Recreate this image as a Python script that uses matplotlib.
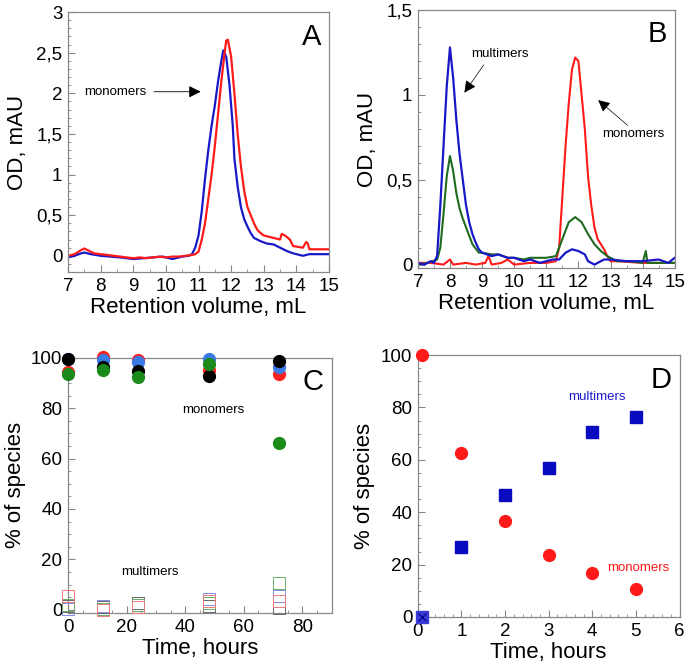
import numpy as np
import matplotlib
matplotlib.use("Agg")
import matplotlib.pyplot as plt
from matplotlib.ticker import MultipleLocator, FuncFormatter

plt.rcParams['font.family'] = ['Liberation Sans', 'DejaVu Sans']

# --- panel A : chromatograms (retention volume, OD) ---
a_red_x = [7.0, 7.2, 7.4, 7.5, 7.6, 7.8, 8.0, 8.2, 8.4, 8.6, 8.8, 9.0, 9.2, 9.4, 9.6, 9.8,
           10.0, 10.2, 10.4, 10.6, 10.8, 10.9, 11.0, 11.1, 11.2, 11.3, 11.4, 11.5, 11.6,
           11.7, 11.8, 11.85, 11.9, 12.0, 12.1, 12.2, 12.3, 12.4, 12.5, 12.6, 12.7, 12.8,
           12.9, 13.0, 13.3, 13.5, 13.55, 13.65, 13.8, 13.9, 14.2, 14.3, 14.35, 14.4, 15.0]
a_red_y = [0.0, 0.02, 0.07, 0.09, 0.07, 0.03, 0.02, 0.01, 0.0, -0.01, -0.02, -0.03, -0.02,
           -0.03, -0.02, -0.01, -0.02, -0.01, -0.01, 0.0, 0.01, 0.02, 0.05, 0.2, 0.4, 0.7,
           1.0, 1.35, 1.75, 2.15, 2.5, 2.65, 2.66, 2.45, 2.0, 1.5, 1.1, 0.8, 0.6, 0.5, 0.4,
           0.32, 0.28, 0.25, 0.22, 0.2, 0.27, 0.25, 0.2, 0.12, 0.1, 0.17, 0.15, 0.08, 0.08]
a_blue_x = [7.0, 7.2, 7.4, 7.5, 7.7, 8.0, 8.3, 8.6, 9.0, 9.3, 9.6, 9.9, 10.2, 10.5, 10.7,
            10.8, 10.9, 11.0, 11.1, 11.2, 11.3, 11.4, 11.5, 11.6, 11.7, 11.76, 11.85, 11.95,
            12.05, 12.1, 12.2, 12.3, 12.4, 12.5, 12.6, 12.7, 12.9, 13.1, 13.3, 13.5, 13.7,
            13.9, 14.2, 14.4, 15.0]
a_blue_y = [-0.02, 0.0, 0.03, 0.04, 0.02, 0.0, -0.01, -0.02, -0.04, -0.03, -0.02, -0.01,
            -0.04, -0.01, 0.0, 0.02, 0.1, 0.25, 0.55, 0.95, 1.3, 1.6, 1.85, 2.15, 2.4, 2.53,
            2.45, 2.1, 1.6, 1.2, 0.85, 0.6, 0.45, 0.36, 0.28, 0.22, 0.18, 0.15, 0.14, 0.1,
            0.06, 0.03, 0.0, 0.02, 0.02]

# --- panel B : chromatograms ---
b_blue_x = [7.0, 7.2, 7.4, 7.5, 7.6, 7.7, 7.8, 7.9, 8.0, 8.1, 8.2, 8.3, 8.4, 8.5, 8.6, 8.7,
            8.8, 8.9, 9.0, 9.3, 9.5, 9.8, 10.0, 10.3, 10.5, 10.8, 11.0, 11.2, 11.4, 11.6,
            11.8, 12.0, 12.2, 12.3, 12.5, 12.8, 13.0, 13.5, 14.0, 14.5, 14.8, 15.0]
b_blue_y = [0.01, 0.0, 0.02, 0.01, 0.05, 0.35, 0.7, 1.05, 1.28, 1.1, 0.85, 0.65, 0.5, 0.35,
            0.25, 0.18, 0.13, 0.09, 0.07, 0.05, 0.06, 0.04, 0.04, 0.02, 0.03, 0.01, 0.02,
            0.03, 0.03, 0.07, 0.09, 0.08, 0.06, 0.02, 0.0, 0.03, 0.03, 0.02, 0.02, 0.03,
            0.01, 0.04]
b_green_x = [7.0, 7.3, 7.6, 7.7, 7.8, 7.9, 8.0, 8.1, 8.2, 8.3, 8.4, 8.5, 8.6, 8.7, 8.9, 9.0,
             9.3, 9.5, 9.8, 10.0, 10.3, 10.5, 10.8, 11.0, 11.3, 11.5, 11.7, 11.9, 12.1,
             12.3, 12.5, 12.7, 12.9, 13.2, 13.6, 14.0, 14.1, 14.15, 14.5, 15.0]
b_green_y = [0.0, 0.01, 0.03, 0.1, 0.3, 0.52, 0.64, 0.55, 0.42, 0.33, 0.27, 0.22, 0.17,
             0.12, 0.07, 0.07, 0.06, 0.06, 0.04, 0.04, 0.03, 0.04, 0.04, 0.04, 0.05, 0.15,
             0.25, 0.28, 0.25, 0.18, 0.12, 0.08, 0.05, 0.02, 0.02, 0.01, 0.08, 0.01, 0.01,
             0.01]
b_red_x = [7.0, 7.4, 7.8, 8.0, 8.1, 8.5, 8.8, 9.1, 9.2, 9.3, 9.6, 9.8, 10.0, 10.5, 11.0,
           11.3, 11.4, 11.5, 11.6, 11.7, 11.8, 11.9, 12.0, 12.1, 12.2, 12.3, 12.4, 12.5,
           12.6, 12.7, 12.8, 12.9, 13.0, 13.2, 14.0, 15.0]
b_red_y = [0.01, 0.01, 0.0, 0.03, 0.0, 0.01, 0.0, 0.01, 0.05, 0.0, 0.01, 0.03, 0.0, 0.01,
           0.01, 0.02, 0.1, 0.4, 0.7, 0.95, 1.15, 1.22, 1.2, 1.0, 0.8, 0.52, 0.35, 0.22,
           0.15, 0.12, 0.09, 0.05, 0.02, 0.02, 0.01, 0.01]

# --- panel C : % of species vs time (hours) ---
c_time = [0, 12, 24, 48, 72]
c_mono_red = [94.4, 100.3, 99.2, 95.0, 93.6]
c_mono_blue = [99.5, 99.2, 98.4, 99.7, 96.3]
c_mono_black = [99.7, 96.3, 94.7, 92.8, 98.7]
c_mono_green = [93.4, 95.0, 92.5, 97.4, 66.0]
c_multi_red = [5.6, 0.0, 1.0, 3.6, 3.3]
c_multi_blue = [0.3, 1.5, 1.8, 4.2, 5.5]
c_multi_black = [1.3, 1.0, 2.6, 1.6, 0.5]
c_multi_green = [2.0, 0.3, 2.0, 2.6, 10.8]

# --- panel D ---
d_time = [0.1, 1, 2, 3, 4, 5]
d_mono = [100, 62.6, 36.5, 23.7, 16.7, 10.5]
d_multi = [0, 26.9, 46.5, 57.0, 70.8, 76.3]

RED = '#ff1a1a'
BLUE = '#1818c8'
GREEN = '#1e6b1e'
GRAY = '#888888'

comma = FuncFormatter(lambda v, p: ('%g' % v).replace('.', ','))

fig = plt.figure(figsize=(6.85, 6.63), dpi=100)
axA = fig.add_axes([0.0993, 0.5897, 0.381, 0.392])
axB = fig.add_axes([0.610, 0.5958, 0.375, 0.389])
axC = fig.add_axes([0.0993, 0.0754, 0.385, 0.385])
axD = fig.add_axes([0.610, 0.0694, 0.382, 0.395])

for ax in (axA, axB, axC, axD):
    for s in ax.spines.values():
        s.set_color(GRAY)
        s.set_linewidth(0.9)
    ax.tick_params(which='both', direction='in', color=GRAY, labelsize=13.5, pad=4)
    ax.tick_params(which='major', length=5)
    ax.tick_params(which='minor', length=2.5)

# A
axA.plot(a_blue_x, a_blue_y, color=BLUE, lw=1.6)
axA.plot(a_red_x, a_red_y, color=RED, lw=1.6)
axA.set_xlim(7, 15)
axA.set_ylim(-0.2, 3)
axA.xaxis.set_major_locator(MultipleLocator(1))
axA.yaxis.set_major_locator(MultipleLocator(0.5))
axA.yaxis.set_minor_locator(MultipleLocator(0.1))
axA.xaxis.set_minor_locator(MultipleLocator(0.5))
axA.yaxis.set_major_formatter(comma)
axA.set_xlabel('Retention volume, mL', fontsize=16, labelpad=2)
axA.set_ylabel('OD, mAU', fontsize=16, labelpad=6)
axA.text(0.97, 0.96, 'A', transform=axA.transAxes, ha='right', va='top', fontsize=21)
axA.annotate('', xy=(11.15, 2.02), xytext=(9.55, 2.02),
             arrowprops=dict(arrowstyle='-|>', color='black', lw=0.6, mutation_scale=18))
axA.text(8.45, 2.02, 'monomers', ha='center', va='center', fontsize=9.5)

# B
axB.plot(b_red_x, b_red_y, color=RED, lw=1.5)
axB.plot(b_green_x, b_green_y, color=GREEN, lw=1.5)
axB.plot(b_blue_x, b_blue_y, color=BLUE, lw=1.6)
axB.set_xlim(7, 15)
axB.set_ylim(-0.02, 1.5)
axB.xaxis.set_major_locator(MultipleLocator(1))
axB.xaxis.set_minor_locator(MultipleLocator(0.5))
axB.yaxis.set_major_locator(MultipleLocator(0.5))
axB.yaxis.set_minor_locator(MultipleLocator(0.1))
axB.yaxis.set_major_formatter(comma)
axB.set_xlabel('Retention volume, mL', fontsize=16, labelpad=2)
axB.set_ylabel('OD, mAU', fontsize=16, labelpad=6)
axB.text(0.97, 0.96, 'B', transform=axB.transAxes, ha='right', va='top', fontsize=21)
axB.annotate('', xy=(8.4, 1.0), xytext=(9.1, 1.19),
             arrowprops=dict(arrowstyle='-|>', color='black', lw=0.5, mutation_scale=18))
axB.text(9.55, 1.24, 'multimers', ha='center', va='center', fontsize=9.5)
axB.annotate('', xy=(12.55, 0.98), xytext=(13.6, 0.81),
             arrowprops=dict(arrowstyle='-|>', color='black', lw=0.5, mutation_scale=18))
axB.text(13.7, 0.77, 'monomers', ha='center', va='center', fontsize=9.5)

# C
ms = 8.5
for yv, col in ((c_mono_red, '#ff2020'), (c_mono_blue, '#3a7ae6'),
                (c_mono_black, 'black'), (c_mono_green, '#1a8a1a')):
    axC.plot(c_time, yv, 'o', color=col, ms=ms, ls='none', clip_on=False, zorder=3)
for yv, col in ((c_multi_black, '#666666'), (c_multi_blue, '#8a8ae6'),
                (c_multi_green, '#6aae6a'), (c_multi_red, '#f07a7a')):
    axC.plot(c_time, yv, 's', mfc='none', mec=col, mew=0.7, ms=8.5, ls='none',
             clip_on=False, zorder=3)
axC.set_xlim(0, 90)
axC.set_ylim(-1.3, 100)
axC.xaxis.set_major_locator(MultipleLocator(20))
axC.xaxis.set_minor_locator(MultipleLocator(5))
axC.yaxis.set_major_locator(MultipleLocator(20))
axC.yaxis.set_minor_locator(MultipleLocator(5))
axC.set_xlabel('Time, hours', fontsize=16, labelpad=2)
axC.set_ylabel('% of species', fontsize=16, labelpad=4)
axC.text(0.97, 0.96, 'C', transform=axC.transAxes, ha='right', va='top', fontsize=21)
axC.text(49.5, 79.2, 'monomers', ha='center', va='center', fontsize=9.5)
axC.text(28, 15, 'multimers', ha='center', va='center', fontsize=9.5)

# D
axD.plot(d_time, d_mono, 'o', color=RED, ms=8.5, ls='none', clip_on=False, zorder=3)
axD.plot(d_time[1:], d_multi[1:], 's', color='#0a0ac0', ms=8.5, ls='none',
         clip_on=False, zorder=3)
axD.plot(d_time[:1], d_multi[:1], 's', color='#3a3ad8', ms=8, ls='none',
         clip_on=False, zorder=3)
axD.plot(d_time[:1], d_multi[:1], 'x', color='#0a0a90', ms=6, mew=1, ls='none',
         clip_on=False, zorder=4)
axD.set_xlim(0, 6)
axD.set_ylim(0, 100)
axD.xaxis.set_major_locator(MultipleLocator(1))
axD.xaxis.set_minor_locator(MultipleLocator(0.2))
axD.yaxis.set_major_locator(MultipleLocator(20))
axD.yaxis.set_minor_locator(MultipleLocator(5))
axD.set_xlabel('Time, hours', fontsize=16, labelpad=2)
axD.set_ylabel('% of species', fontsize=16, labelpad=4)
axD.text(0.97, 0.96, 'D', transform=axD.transAxes, ha='right', va='top', fontsize=21)
axD.text(4.1, 84, 'multimers', ha='center', va='center', fontsize=9.5, color='#1a1ad0')
axD.text(5.05, 18.8, 'monomers', ha='center', va='center', fontsize=9.5, color=RED)

fig.savefig('out.png', dpi=100)
